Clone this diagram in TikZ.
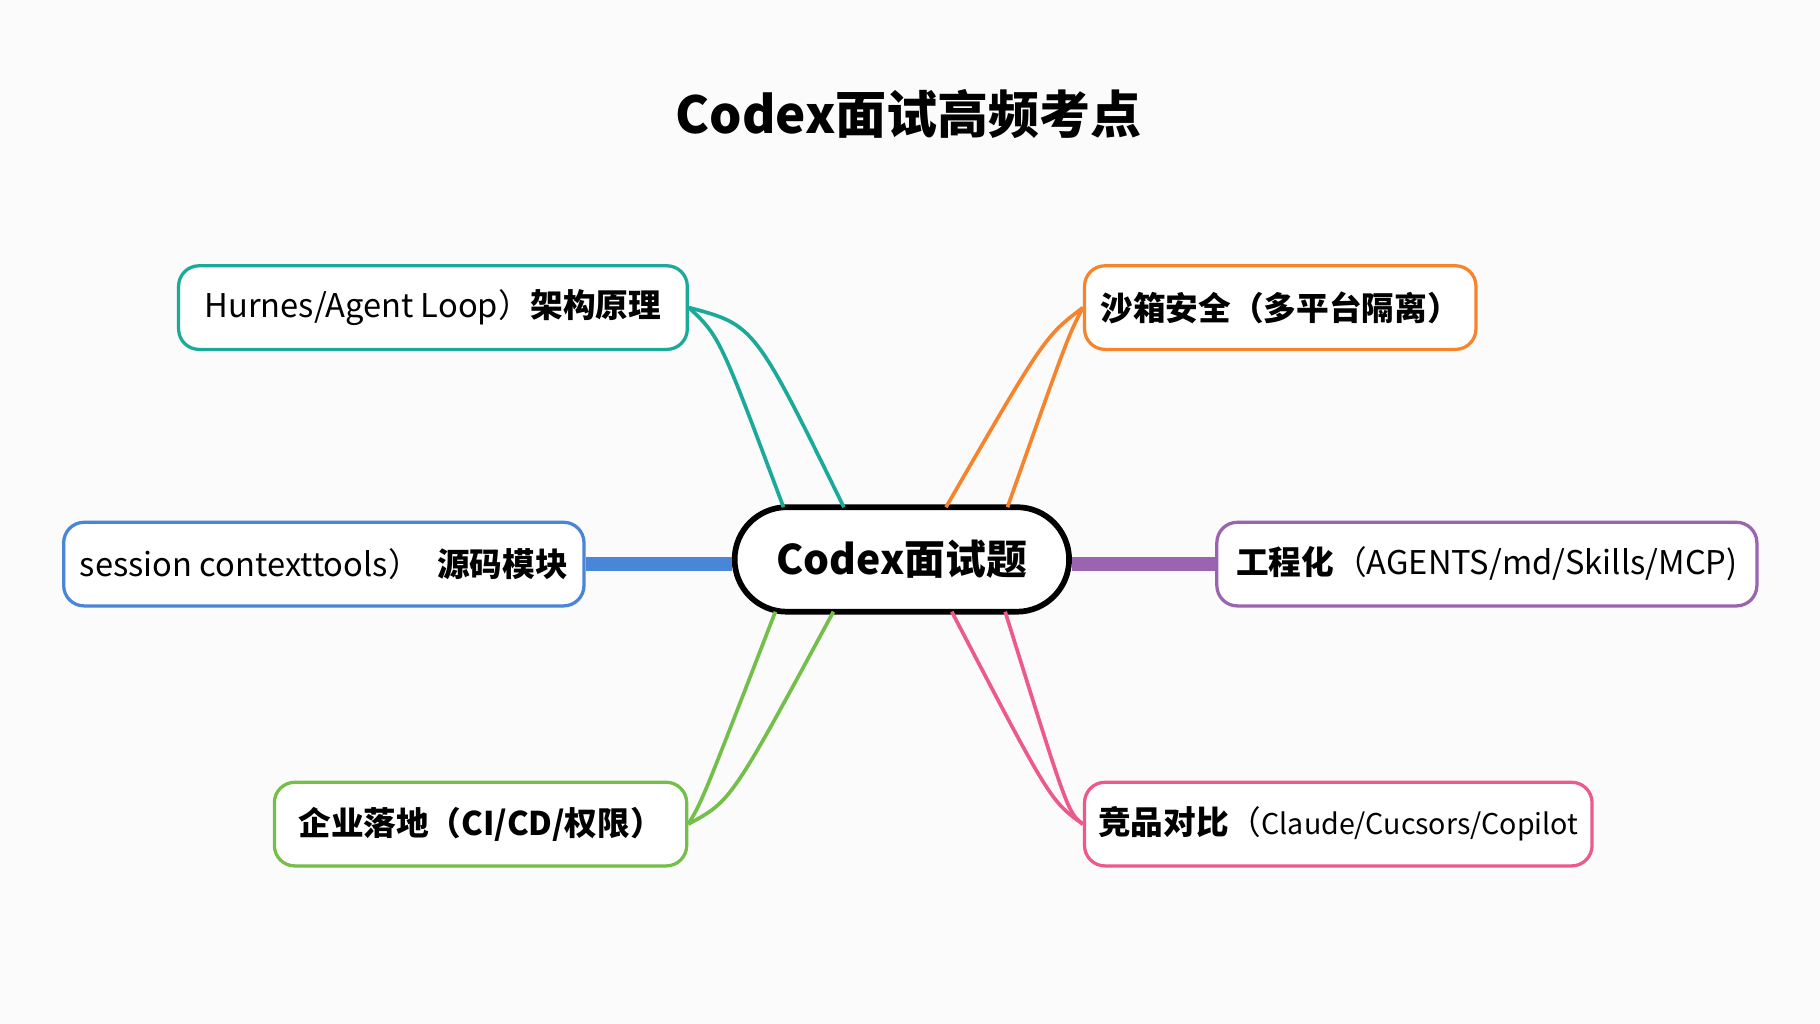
\documentclass[tikz,border=0pt]{standalone}
\usepackage{fontspec}
\setmainfont{Noto Sans CJK SC}
\usetikzlibrary{positioning}
\definecolor{tealc}{HTML}{1BA99A}
\definecolor{orangec}{HTML}{F5842C}
\definecolor{bluec}{HTML}{4A86D8}
\definecolor{purplec}{HTML}{9B64B0}
\definecolor{greenc}{HTML}{74BE4A}
\definecolor{pinkc}{HTML}{EC5A8C}
\tikzset{
box/.style={draw=#1, line width=0.8pt, rounded corners=5pt, fill=white,
  minimum height=0.72cm, inner sep=0pt, font=\fontsize{8}{10}\selectfont},
link/.style={draw=#1, line width=0.9pt},
bar/.style={draw=#1, line width=3.6pt}
}
\begin{document}
\begin{tikzpicture}[x=0.01cm,y=-0.01cm]
\useasboundingbox[fill=white!97!gray] (0,0) rectangle (1568,882);
\node (title) at (783,98) {\fontsize{12.5}{15}\selectfont\bfseries Codex面试高频考点};
\node (core) [draw, line width=1.4pt, rounded corners=0.45cm, fill=white, minimum width=2.88cm,
  minimum height=0.9cm, font=\fontsize{10}{12}\selectfont\bfseries] at (777,482) {Codex面试题};
\node (arch) [box=tealc, minimum width=4.38cm] at (373,265) {Hurnes/Agent Loop）\textbf{架构原理}};
\node (sand) [box=orangec, minimum width=3.37cm] at (1103,265) {\textbf{沙箱安全（多平台隔离）}};
\node (src) [box=bluec, minimum width=4.48cm] at (279,486) {session contexttools）\enspace\textbf{源码模块}};
\node (eng) [box=purplec, minimum width=4.65cm] at (1281,486) {\textbf{工程化}（AGENTS/md/Skills/MCP)};
\node (ent) [box=greenc, minimum width=3.55cm] at (414,710) {\textbf{企业落地（CI/CD/权限）}};
\node (comp) [box=pinkc, minimum width=4.37cm] at (1153,710) {\textbf{竞品对比}（\fontsize{7}{9}\selectfont Claude/Cucsors/Copilot};
% connectors
\draw[link=tealc] (arch.east) .. controls (620,290) .. (675,437);
\draw[link=tealc] (arch.east) .. controls (650,280) .. (727,437);
\draw[link=orangec] (sand.west) .. controls (900,290) .. (815,437);
\draw[link=orangec] (sand.west) .. controls (920,290) .. (868,437);
\draw[bar=bluec] (src.east) -- (src.east -| core.west);
\draw[bar=purplec] (eng.west -| core.east) -- (eng.west);
\draw[link=greenc] (ent.east) .. controls (605,690) .. (668,527);
\draw[link=greenc] (ent.east) .. controls (630,690) .. (718,527);
\draw[link=pinkc] (comp.west) .. controls (905,690) .. (820,527);
\draw[link=pinkc] (comp.west) .. controls (920,700) .. (866,527);
\end{tikzpicture}
\end{document}
